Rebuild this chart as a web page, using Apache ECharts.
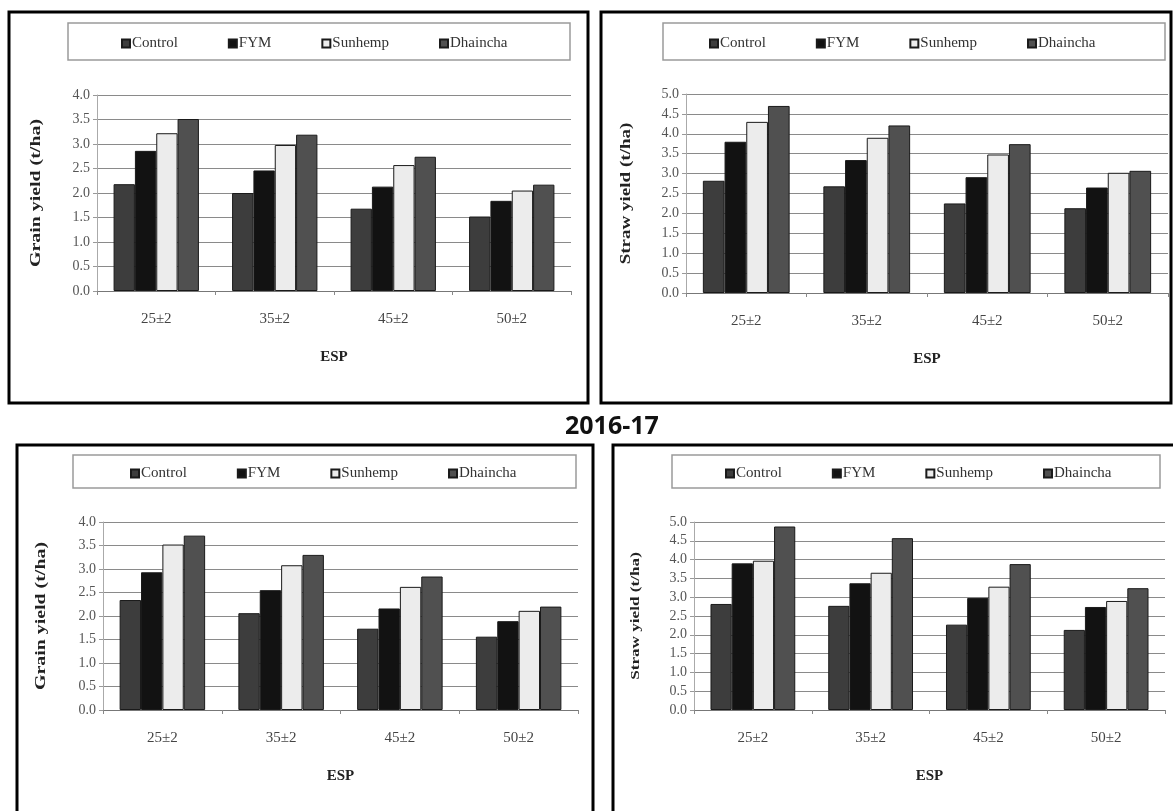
<!DOCTYPE html>
<html>
<head>
<meta charset="utf-8">
<script src="https://cdn.jsdelivr.net/npm/echarts@6/dist/echarts.min.js"></script>
<style>
  html, body { margin: 0; padding: 0; background: #ffffff; }
  #chart { width: 1173px; height: 811px; }
</style>
</head>
<body>
<div id="chart"></div>
<script>
// ESP classes on the x axis
const categories = ['25±2', '35±2', '45±2', '50±2'];
const treatments = ['Control', 'FYM', 'Sunhemp', 'Dhaincha'];
const yTicksGrain = [0, 0.5, 1.0, 1.5, 2.0, 2.5, 3.0, 3.5, 4.0];
const yTicksStraw = [0, 0.5, 1.0, 1.5, 2.0, 2.5, 3.0, 3.5, 4.0, 4.5, 5.0];

// Grain yield (t/ha), upper row
const grainUpperControl  = [2.18, 2.00, 1.68, 1.52];
const grainUpperFYM      = [2.86, 2.46, 2.13, 1.84];
const grainUpperSunhemp  = [3.22, 2.98, 2.57, 2.05];
const grainUpperDhaincha = [3.51, 3.19, 2.74, 2.17];

// Straw yield (t/ha), upper row
const strawUpperControl  = [2.82, 2.68, 2.25, 2.13];
const strawUpperFYM      = [3.80, 3.34, 2.91, 2.65];
const strawUpperSunhemp  = [4.30, 3.90, 3.48, 3.02];
const strawUpperDhaincha = [4.70, 4.21, 3.74, 3.07];

// Grain yield (t/ha), 2016-17
const grain1617Control  = [2.34, 2.06, 1.73, 1.56];
const grain1617FYM      = [2.93, 2.55, 2.16, 1.89];
const grain1617Sunhemp  = [3.52, 3.08, 2.62, 2.11];
const grain1617Dhaincha = [3.71, 3.30, 2.84, 2.20];

// Straw yield (t/ha), 2016-17
const straw1617Control  = [2.82, 2.77, 2.27, 2.13];
const straw1617FYM      = [3.90, 3.37, 2.98, 2.74];
const straw1617Sunhemp  = [3.97, 3.65, 3.28, 2.90];
const straw1617Dhaincha = [4.88, 4.57, 3.88, 3.24];

const fills = ['#3d3d3d', '#121212', '#ececec', '#505050'];
const serif = '"Liberation Serif", "DejaVu Serif", serif';

const panels = [
  { grid: { left: 97, top: 95, width: 474, height: 196 }, max: 4, ticks: yTicksGrain,
    yName: 'Grain yield (t/ha)', nameX: 36, nameSize: 14, nameStretch: 1.42,
    legendLeft: 116, legendTop: 31,
    data: [grainUpperControl, grainUpperFYM, grainUpperSunhemp, grainUpperDhaincha] },
  { grid: { left: 686, top: 94, width: 482, height: 199 }, max: 5, ticks: yTicksStraw,
    yName: 'Straw yield (t/ha)', nameX: 626, nameSize: 14, nameStretch: 1.36,
    legendLeft: 704, legendTop: 31,
    data: [strawUpperControl, strawUpperFYM, strawUpperSunhemp, strawUpperDhaincha] },
  { grid: { left: 103, top: 522, width: 475, height: 188 }, max: 4, ticks: yTicksGrain,
    yName: 'Grain yield (t/ha)', nameX: 41, nameSize: 14, nameStretch: 1.42,
    legendLeft: 125, legendTop: 461,
    data: [grain1617Control, grain1617FYM, grain1617Sunhemp, grain1617Dhaincha] },
  { grid: { left: 694, top: 522, width: 471, height: 188 }, max: 5, ticks: yTicksStraw,
    yName: 'Straw yield (t/ha)', nameX: 636, nameSize: 12, nameStretch: 1.43,
    legendLeft: 720, legendTop: 461,
    data: [straw1617Control, straw1617FYM, straw1617Sunhemp, straw1617Dhaincha] }
];

const grid = [], xAxis = [], yAxis = [], series = [], legend = [], yTitles = [];

panels.forEach((p, i) => {
  grid.push(Object.assign({ containLabel: false }, p.grid));
  xAxis.push({
    type: 'category', gridIndex: i, data: categories,
    name: 'ESP', nameLocation: 'middle', nameGap: 59,
    nameTextStyle: { fontFamily: serif, fontWeight: 'bold', fontSize: 15, color: '#222' },
    axisLine: { lineStyle: { color: '#777', width: 1 } },
    axisTick: { show: true, length: 4, lineStyle: { color: '#888' } },
    axisLabel: { fontFamily: serif, fontSize: 15, color: '#444', margin: 21 }
  });
  yAxis.push({
    type: 'value', gridIndex: i, min: 0, max: p.max, interval: 0.5,
    axisLine: { show: true, lineStyle: { color: '#aaa' } },
    axisTick: { show: true, length: 4, lineStyle: { color: '#999' } },
    axisLabel: { fontFamily: serif, fontSize: 14, color: '#555', margin: 7,
      formatter: v => p.ticks.includes(v) ? v.toFixed(1) : '' },
    splitLine: { lineStyle: { color: '#8a8a8a', width: 1 } }
  });
  treatments.forEach((name, k) => {
    series.push({
      type: 'bar', name, xAxisIndex: i, yAxisIndex: i, data: p.data[k],
      barGap: '0%', barCategoryGap: '28%',
      itemStyle: { color: fills[k], borderColor: '#1a1a1a', borderWidth: 1 },
      emphasis: { disabled: true }
    });
  });
  legend.push({
    left: p.legendLeft, top: p.legendTop, orient: 'horizontal',
    data: treatments, selectedMode: false, icon: 'rect',
    itemWidth: 8, itemHeight: 8, itemGap: 50,
    textStyle: { fontFamily: serif, fontSize: 15, color: '#333', padding: [0, 0, 0, -3] }
  });
  // Vertical axis title, set in a tall narrow face like the tick text
  yTitles.push({
    type: 'text', silent: true, z: 10,
    x: p.nameX, y: p.grid.top + p.grid.height / 2,
    rotation: Math.PI / 2, scaleX: p.nameStretch, scaleY: 1,
    style: {
      text: p.yName, fill: '#222',
      font: 'bold ' + p.nameSize + 'px ' + serif,
      align: 'center', verticalAlign: 'middle'
    }
  });
});

// Panel frames and legend boxes
const frame = (x, y, w, h) => ({
  type: 'rect', shape: { x, y, width: w, height: h }, silent: true,
  style: { fill: 'none', stroke: '#000', lineWidth: 3 }, z: 10
});
const legendBox = (x, y, w, h) => ({
  type: 'rect', shape: { x, y, width: w, height: h }, silent: true,
  style: { fill: 'none', stroke: '#9a9a9a', lineWidth: 1.5 }, z: 10
});

const option = {
  animation: false,
  backgroundColor: '#ffffff',
  title: {
    text: '2016-17', left: 560, top: 409,
    textStyle: { fontFamily: '"Open Sans", "Noto Sans", sans-serif', fontWeight: 'bold', fontSize: 25, color: '#111' }
  },
  grid, xAxis, yAxis, series, legend,
  graphic: [
    frame(9, 12, 579, 391),
    frame(601, 12, 570, 391),
    frame(17, 445, 576, 400),
    frame(613, 445, 600, 400),
    legendBox(68, 23, 502, 37),
    legendBox(663, 23, 502, 37),
    legendBox(73, 455, 503, 33),
    legendBox(672, 455, 488, 33)
  ].concat(yTitles)
};

const chart = echarts.init(document.getElementById('chart'), null, { renderer: 'canvas' });
chart.setOption(option);
</script>
</body>
</html>
